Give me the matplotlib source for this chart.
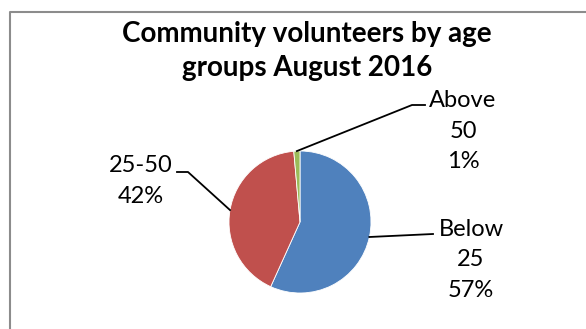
import numpy as np
import matplotlib.pyplot as plt

# slice data (order as drawn, clockwise from 12 o'clock)
groups = ['Below\n25', '25-50', 'Above\n50']
shares = [57, 42, 1.4]
colors = ['#4F81BD', '#C0504D', '#9BBB59']

# label layout: text centre and leader line elbow / end (pixels, y from top)
label_pos = [(471, 260), (141, 181), (463, 131)]
elbow_pos = [(433, 234), (188, 172), (412, 105)]
end_pos = [(433, 234), (177, 172), (425, 105)]

W, H = 586, 329
fig = plt.figure(figsize=(W / 100, H / 100), dpi=100)
ax = fig.add_axes([0, 0, 1, 1])

cx, cy, r = 300, H - 222, 71
wedges, _ = ax.pie(shares, colors=colors, startangle=90, counterclock=False,
                   center=(cx, cy), radius=r, frame=True,
                   wedgeprops=dict(linewidth=0.6, edgecolor='white'))
ax.set_xlim(0, W)
ax.set_ylim(0, H)
ax.axis('off')

total = sum(shares)
font = 'Lato'
for w, g, s, lp, ep, qp in zip(wedges, groups, shares, label_pos, elbow_pos, end_pos):
    mid = np.deg2rad((w.theta1 + w.theta2) / 2)
    x0 = cx + r * np.cos(mid)
    y0 = cy + r * np.sin(mid)
    ax.plot([x0, ep[0], qp[0]], [y0, H - ep[1], H - qp[1]], color='black', lw=1.3)
    txt = '%s\n%d%%' % (g, round(100 * s / total))
    ax.text(lp[0], H - lp[1], txt, ha='center', va='center', fontsize=17,
            family=font, linespacing=1.55)

ax.text(W / 2 + 14, H - 51, 'Community volunteers by age\ngroups August 2016',
        ha='center', va='center', fontsize=20, fontweight='bold',
        family=font, linespacing=1.4)

# chart border (only top and left edges visible)
ax.plot([10, 10, W], [0, H - 12, H - 12], color='#8c8c8c', lw=1.5,
        solid_capstyle='butt')

fig.savefig('out.png', dpi=100)
